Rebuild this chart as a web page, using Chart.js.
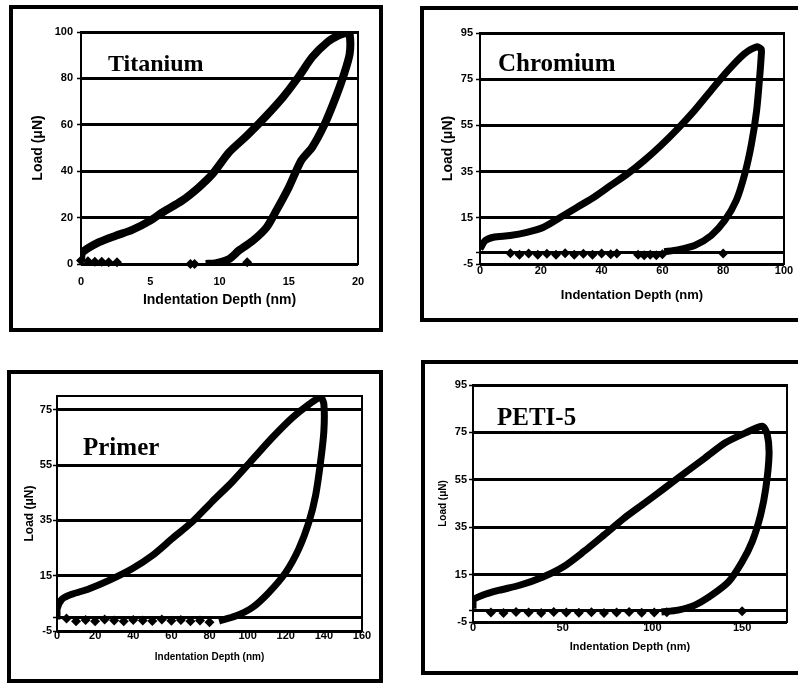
<!DOCTYPE html>
<html>
<head>
<meta charset="utf-8">
<script src="https://cdn.jsdelivr.net/npm/chart.js@4/dist/chart.umd.min.js"></script>
<style>
  html, body { margin: 0; padding: 0; background: #fff; }
  body { width: 798px; height: 684px; overflow: hidden; position: relative; }
  .box { position: absolute; border: 4px solid #000; box-sizing: border-box; background: #fff; }
  .box canvas { position: absolute; left: 0; top: 0; }
  .lbl { position: absolute; font-family: "Liberation Serif", "Times New Roman", serif; font-weight: bold; line-height: 1; white-space: nowrap; color: #000; }
</style>
</head>
<body>
<script>
// Titanium
var tiDepth = [0, 0.1, 1.3, 2.5, 3.7, 5.0, 5.9, 7.3, 8.5, 9.5, 10.7, 12.0, 13.4, 14.6, 15.7, 16.7, 17.8, 18.6, 19.2,
               19.4, 19.4, 19.0, 18.4, 17.6, 16.7, 15.9, 15.0, 14.1, 13.4, 12.4, 11.4, 10.7, 9.7, 9.0];
var tiLoad  = [2, 5, 9.4, 12.2, 14.7, 18.7, 22.3, 27.3, 33, 38.8, 48.2, 55.4, 64, 72, 80.6, 89.2, 95.7, 98.5, 99.7,
               99, 90.6, 82, 72, 60.4, 50.4, 44.6, 33, 23, 15.8, 10, 5.8, 2.2, 0.3, 0];
var tiTailDepth = [0, 0.5, 1.0, 1.5, 2.0, 2.6, 7.9, 8.2, 12.0];
var tiTailLoad  = [1.5, 1.2, 1, 1, 0.8, 0.8, 0, 0, 0.8];
var tiXTicks = [0, 5, 10, 15, 20];
var tiYTicks = [0, 20, 40, 60, 80, 100];

// Chromium
var crDepth = [0, 1.7, 4.4, 9.9, 15.4, 20.9, 26.5, 32, 37.5, 43, 48.5, 54, 59.5, 65, 70.6, 76, 81.6, 87, 91, 92.5,
               92.5, 92, 91, 89.3, 87.1, 84.3, 80.5, 76, 70.6, 65, 60.6];
var crLoad  = [1.5, 5.1, 6.6, 7.3, 8.7, 10.9, 15.2, 19.6, 23.9, 29, 34, 39.8, 46.3, 53.5, 61.5, 70.1, 78.8, 86, 89, 88,
               85, 76, 61.5, 47, 34, 22.5, 13.8, 7.3, 3, 1.1, 0.3];
var crTailDepth = [10, 13, 16, 19, 22, 25, 28, 31, 34, 37, 40, 43, 45, 52, 54, 56, 58, 60, 80];
var crTailLoad  = [-0.3, -1, -0.5, -1, -0.6, -1, -0.4, -1, -0.6, -1, -0.5, -0.8, -0.5, -1, -1.2, -1, -1.2, -0.8, -0.5];
var crXTicks = [0, 20, 40, 60, 80, 100];
var crYTicks = [-5, 15, 35, 55, 75, 95];

// Primer
var prDepth = [0, 0, 2.6, 7.9, 16.6, 27, 39.4, 50, 60.4, 71, 81.4, 92, 102.5, 113, 123.5, 132.2, 138.3,
               140, 140, 138.3, 135.7, 132.2, 126.9, 120, 111.1, 102.5, 93.7, 85];
var prLoad  = [-0.8, 2.9, 6.5, 8.3, 10.2, 13.2, 17.5, 22.3, 28.4, 34.5, 41.8, 49, 57, 65, 72.2, 77, 79.5,
               77, 67.3, 56.4, 44.2, 34.5, 24.8, 16.2, 8.9, 3.5, 0.4, -1.4];
var prTailDepth = [5, 10, 15, 20, 25, 30, 35, 40, 45, 50, 55, 60, 65, 70, 75, 80];
var prTailLoad  = [-0.5, -1.5, -1, -1.5, -0.8, -1.2, -1.5, -1, -1.2, -1.4, -0.8, -1.3, -1, -1.5, -1.2, -1.8];
var prXTicks = [0, 20, 40, 60, 80, 100, 120, 140, 160];
var prYTicks = [-5, 15, 35, 55, 75];

// PETI-5
var pe5Depth = [0, 0, 5.3, 14.7, 26, 39, 50.4, 61.7, 73, 84.2, 95.5, 106.8, 118, 129.3, 140.6, 151.9, 161.3,
                164, 165, 163.2, 160.3, 155.6, 150, 142.5, 133, 123.7, 114.3, 105];
var pe5Load  = [0.6, 4.2, 6.3, 8.4, 10.5, 14, 18.3, 24.7, 31.7, 38.8, 45.1, 51.5, 57.9, 64.2, 70.6, 74.8, 77.6,
                74.1, 65.6, 51.5, 40.2, 28.9, 20.4, 12, 6.3, 2.1, 0, -0.8];
var pe5TailDepth = [10, 17, 24, 31, 38, 45, 52, 59, 66, 73, 80, 87, 94, 101, 108, 150];
var pe5TailLoad  = [-1, -1.2, -0.8, -1, -1.2, -0.8, -1, -1.1, -0.9, -1.2, -1, -0.8, -1.1, -1, -0.9, -0.5];
var pe5XTicks = [0, 50, 100, 150];
var pe5YTicks = [-5, 15, 35, 55, 75, 95];

var xTitle = 'Indentation Depth (nm)';
var yTitle = 'Load (\u03bcN)';

function pts(xs, ys) {
  return xs.map(function (x, i) { return { x: x, y: ys[i] }; });
}

var framePlugin = {
  id: 'frame',
  beforeDatasetsDraw: function (chart, args, opts) {
    var a = chart.chartArea, c = chart.ctx;
    c.save();
    c.strokeStyle = '#000';
    c.lineWidth = opts.width || 2;
    c.strokeRect(a.left, a.top, a.right - a.left, a.bottom - a.top);
    c.restore();
  }
};

function makePanel(p) {
  var box = document.createElement('div');
  box.className = 'box';
  box.style.left = p.box[0] + 'px';
  box.style.top = p.box[1] + 'px';
  box.style.width = p.box[2] + 'px';
  box.style.height = p.box[3] + 'px';
  document.body.appendChild(box);

  var cx = p.box[0] + 4, cy = p.box[1] + 4;
  var cw = p.box[2] - 8, ch = p.box[3] - 8;
  var canvas = document.createElement('canvas');
  canvas.width = cw; canvas.height = ch;
  canvas.style.width = cw + 'px'; canvas.style.height = ch + 'px';
  box.appendChild(canvas);

  var plotL = p.plot[0] - cx, plotT = p.plot[1] - cy, plotR = p.plot[2] - cx, plotB = p.plot[3] - cy;
  var fam = '"Liberation Sans", Arial, sans-serif';
  var xtPad = (cy + ch) - p.xTitleY - p.xTitleSize * 0.6;
  var ytPad = (p.yTitleX - cx) - p.yTitleSize * 0.6;
  var yAll = p.yTicks.concat(p.yLines || []).sort(function (a, b) { return a - b; });

  new Chart(canvas, {
    type: 'scatter',
    data: {
      datasets: [
        { data: pts(p.depth, p.load), showLine: true, borderColor: '#000', backgroundColor: '#000',
          borderWidth: p.line, pointRadius: 0, tension: 0.25, fill: false },
        { data: pts(p.tailX, p.tailY), showLine: false, pointStyle: 'rectRot', pointRadius: 5,
          backgroundColor: '#000', borderColor: '#000', borderWidth: 0, clip: false }
      ]
    },
    options: {
      responsive: false,
      animation: false,
      devicePixelRatio: 1,
      layout: { padding: { top: plotT, right: cw - plotR, left: 0, bottom: 0 } },
      plugins: { legend: { display: false }, tooltip: { enabled: false }, frame: { width: 2 } },
      scales: {
        x: {
          type: 'linear', min: p.xMin, max: p.xMax,
          afterBuildTicks: function (s) { s.ticks = p.xTicks.map(function (v) { return { value: v }; }); },
          afterFit: function (s) { s.height = ch - plotB; },
          grid: { drawOnChartArea: false, drawTicks: false },
          border: { display: false },
          ticks: { autoSkip: false, maxRotation: 0, padding: p.xPad, color: '#000',
                   font: { family: fam, size: p.tickSize, weight: 'bold' },
                   callback: function (v) { return String(v); } },
          title: { display: true, text: xTitle, color: '#000',
                   font: { family: fam, size: p.xTitleSize, weight: 'bold' },
                   padding: { top: xtPad, bottom: xtPad } }
        },
        y: {
          type: 'linear', min: p.yMin, max: p.yMax,
          afterBuildTicks: function (s) { s.ticks = yAll.map(function (v) { return { value: v }; }); },
          afterFit: function (s) { s.width = plotL; },
          grid: { color: '#000', lineWidth: p.grid, drawTicks: true, tickLength: 4, tickWidth: 1.5, tickColor: '#000' },
          border: { display: false },
          ticks: { autoSkip: false, padding: p.yPad, color: '#000',
                   font: { family: fam, size: p.tickSize, weight: 'bold' },
                   callback: function (v) { return p.yTicks.indexOf(v) >= 0 ? String(v) : ''; } },
          title: { display: true, text: yTitle, color: '#000',
                   font: { family: fam, size: p.yTitleSize, weight: 'bold' },
                   padding: { top: ytPad, bottom: ytPad } }
        }
      }
    },
    plugins: [framePlugin]
  });

  var lbl = document.createElement('div');
  lbl.className = 'lbl';
  lbl.textContent = p.name;
  lbl.style.left = p.nameX + 'px';
  lbl.style.top = p.nameY + 'px';
  lbl.style.fontSize = p.nameSize + 'px';
  document.body.appendChild(lbl);
}

makePanel({ name: 'Titanium', nameX: 108, nameY: 51, nameSize: 24,
  box: [9, 5, 374, 327], plot: [81, 32, 358, 264],
  depth: tiDepth, load: tiLoad, tailX: tiTailDepth, tailY: tiTailLoad,
  xMin: 0, xMax: 20, xTicks: tiXTicks, yMin: 0, yMax: 100, yTicks: tiYTicks,
  tickSize: 11, xTitleSize: 14, yTitleSize: 14, xTitleY: 300, yTitleX: 38,
  xPad: 11, yPad: 4, line: 8, grid: 3 });

makePanel({ name: 'Chromium', nameX: 498, nameY: 50, nameSize: 25,
  box: [420, 6, 390, 316], plot: [480, 33, 784, 264],
  depth: crDepth, load: crLoad, tailX: crTailDepth, tailY: crTailLoad,
  xMin: 0, xMax: 100, xTicks: crXTicks, yMin: -5, yMax: 95, yTicks: crYTicks, yLines: [0],
  tickSize: 11, xTitleSize: 13, yTitleSize: 14, xTitleY: 295, yTitleX: 448,
  xPad: 0, yPad: 3, line: 7, grid: 3 });

makePanel({ name: 'Primer', nameX: 83, nameY: 434, nameSize: 25,
  box: [7, 370, 376, 313], plot: [57, 396, 362, 631],
  depth: prDepth, load: prLoad, tailX: prTailDepth, tailY: prTailLoad,
  xMin: 0, xMax: 160, xTicks: prXTicks, yMin: -5, yMax: 80, yTicks: prYTicks, yLines: [0],
  tickSize: 11, xTitleSize: 10, yTitleSize: 12, xTitleY: 657, yTitleX: 30,
  xPad: -2, yPad: 1, line: 7, grid: 3 });

makePanel({ name: 'PETI-5', nameX: 497, nameY: 404, nameSize: 25,
  box: [421, 360, 390, 315], plot: [473, 385, 787, 622],
  depth: pe5Depth, load: pe5Load, tailX: pe5TailDepth, tailY: pe5TailLoad,
  xMin: 0, xMax: 175, xTicks: pe5XTicks, yMin: -5, yMax: 95, yTicks: pe5YTicks, yLines: [0],
  tickSize: 11, xTitleSize: 11, yTitleSize: 10, xTitleY: 647, yTitleX: 443,
  xPad: -1, yPad: 2, line: 7, grid: 3 });
</script>
</body>
</html>
